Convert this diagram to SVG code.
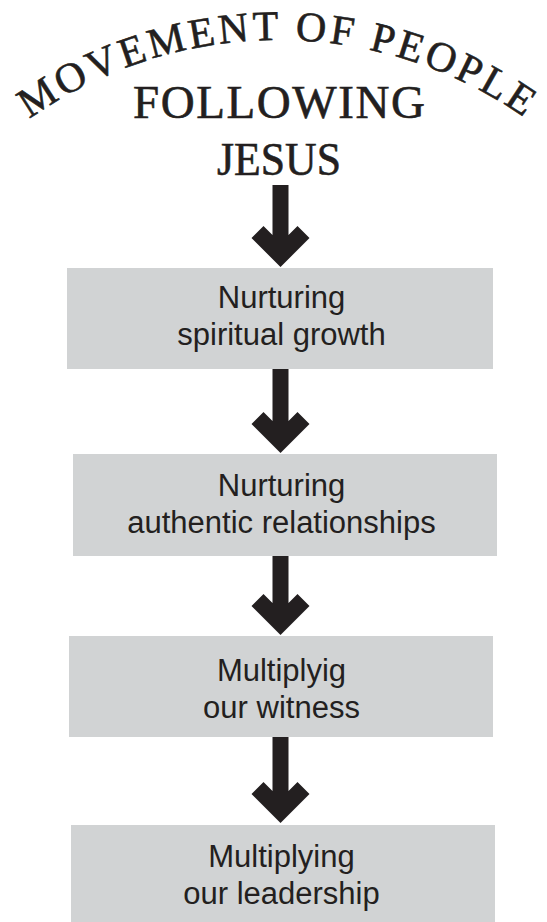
<svg xmlns="http://www.w3.org/2000/svg" width="547" height="922" viewBox="0 0 547 922">
<style>
.box{fill:#d1d3d4}
.lbl{font-family:"Liberation Sans",Arial,sans-serif;font-size:31px;fill:#231f20;text-anchor:middle}
.ttl{font-family:"Liberation Serif","Times New Roman",serif;fill:#231f20;stroke:#231f20;stroke-width:0.6;text-anchor:middle}
.arrow{fill:#231f20}
</style>
<defs>
<path id="arc" d="M -51.4 193.6 A 430 430 0 0 1 607.4 193.6"/>
</defs>
<rect width="547" height="922" fill="#ffffff"/>
<g id="title">
<text class="ttl" font-size="42" letter-spacing="3.3"><textPath href="#arc" startOffset="50%">MOVEMENT OF PEOPLE</textPath></text>
<text class="ttl" x="279" y="118" font-size="47" textLength="292" lengthAdjust="spacing">FOLLOWING</text>
<text class="ttl" x="279" y="175" font-size="47" textLength="124" lengthAdjust="spacingAndGlyphs">JESUS</text>
</g>
<g id="connectors">
<path class="arrow" d="M272.5 185 H288.5 V235 L297.5 226 L309.5 238 L280.5 267 L251.5 238 L263.5 226 L272.5 235 Z"/>
<path class="arrow" d="M272.5 369 H288.5 V421 L297.5 412 L309.5 424 L280.5 453 L251.5 424 L263.5 412 L272.5 421 Z"/>
<path class="arrow" d="M272.5 556 H288.5 V603 L297.5 594 L309.5 606 L280.5 635 L251.5 606 L263.5 594 L272.5 603 Z"/>
<path class="arrow" d="M272.5 737 H288.5 V791 L297.5 782 L309.5 794 L280.5 823 L251.5 794 L263.5 782 L272.5 791 Z"/>
</g>
<g id="node1">
<rect class="box" x="67" y="268" width="426" height="101"/>
<text class="lbl" x="281.5" y="308">Nurturing</text>
<text class="lbl" x="281.5" y="345">spiritual growth</text>
</g>
<g id="node2">
<rect class="box" x="73" y="454" width="424" height="102"/>
<text class="lbl" x="281.5" y="496">Nurturing</text>
<text class="lbl" x="281.5" y="533">authentic relationships</text>
</g>
<g id="node3">
<rect class="box" x="69" y="636" width="424" height="101"/>
<text class="lbl" x="281.5" y="681">Multiplyig</text>
<text class="lbl" x="281.5" y="718">our witness</text>
</g>
<g id="node4">
<rect class="box" x="71" y="825" width="424" height="97"/>
<text class="lbl" x="281.5" y="867">Multiplying</text>
<text class="lbl" x="281.5" y="904">our leadership</text>
</g>
</svg>
